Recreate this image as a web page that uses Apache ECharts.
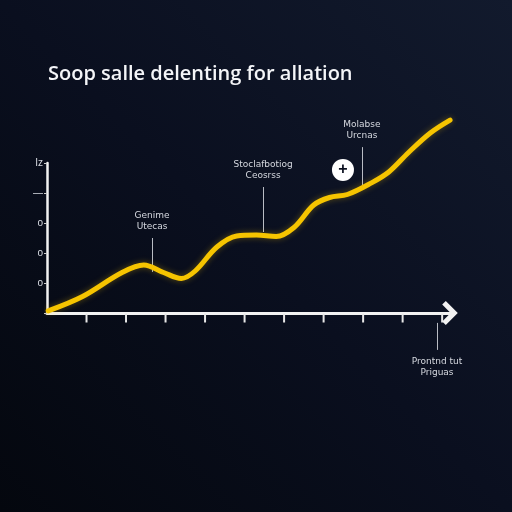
<!DOCTYPE html>
<html><head><meta charset="utf-8">
<script src="https://cdn.jsdelivr.net/npm/echarts@6/dist/echarts.min.js"></script>
<style>html,body{margin:0;padding:0;background:#070b17;}#c{width:512px;height:512px;}</style>
</head><body><div id="c"></div>
<script>
const titleText = "Soop salle delenting for allation";
const curveX = [0.03, 0.9, 1.9, 2.45, 2.95, 3.4, 3.75, 4.3, 4.8, 5.3, 5.8, 6.25, 6.75, 7.15, 7.6, 8.2, 8.65, 9.15, 9.7, 10.2];
const curveY = [0.07, 0.55, 1.35, 1.6, 1.35, 1.15, 1.4, 2.2, 2.57, 2.6, 2.55, 2.85, 3.6, 3.85, 3.95, 4.33, 4.7, 5.35, 6.0, 6.43];
const yTickLabels = ["", "o", "o", "o", "\u2014", "Iz"];
const xTicks = [1, 2, 3, 4, 5, 6, 7, 8, 9, 10];
const annX = [2.66, 5.47, 7.97, 9.87];
const annTop = [2.5, 4.2, 5.53, -0.33];
const annBottom = [1.37, 2.7, 4.1, -1.23];
const annLabels = ["Genime\nUtecas", "Stoclafbotiog\nCeosrss", "Molabse\nUrcnas", "Prontnd tut\nPriguas"];
const annLabelAbove = [true, true, true, false];
const plusPoint = [7.49, 4.77];

const chart = echarts.init(document.getElementById('c'));
const curve = curveX.map((x, i) => [x, curveY[i]]);
const annLines = annX.map((x, i) => {
  const above = annLabelAbove[i];
  return [
    {name: annLabels[i], coord: [x, annTop[i]], label: {position: above ? 'start' : 'end'}},
    {coord: [x, annBottom[i]]}
  ];
});
chart.setOption({
  backgroundColor: {
    type: 'linear', x: 1, y: 0, x2: 0, y2: 1,
    colorStops: [{offset: 0, color: '#121a2d'}, {offset: 0.5, color: '#0a0f1f'}, {offset: 1, color: '#04070e'}]
  },
  title: {
    text: titleText, left: 43, top: 59,
    textStyle: {color: '#f4f5f8', fontSize: 20, fontWeight: 600, fontFamily: 'Open Sans'}
  },
  grid: [
    {left: 47, right: 58, top: 115, bottom: 139},
    {left: 47, right: 58, top: 163, bottom: 199}
  ],
  xAxis: [
    {type: 'value', gridIndex: 0, min: 0, max: 10.3,
     axisLine: {onZero: true, lineStyle: {color: '#f2f2f2', width: 3},
       symbol: ['none', 'path://M0,10 L10,0 L20,10 L17,13 L10,6 L3,13 Z'], symbolSize: [24, 17], symbolOffset: [0, -4]},
     axisTick: {show: false}, axisLabel: {show: false}, splitLine: {show: false}},
    {type: 'value', gridIndex: 1, min: 0, max: 10.3, show: false}
  ],
  yAxis: [
    {type: 'value', gridIndex: 0, min: -2, max: 6.6, show: false},
    {type: 'value', gridIndex: 1, min: 0, max: 5, interval: 1,
     axisLine: {show: true, lineStyle: {color: '#f2f2f2', width: 2.5}},
     axisTick: {show: true, length: 3, lineStyle: {color: '#cccccc'}},
     axisLabel: {color: '#d8dbe2', fontSize: 10, margin: 4, formatter: (v) => yTickLabels[Math.round(v)] || ''},
     splitLine: {show: false}}
  ],
  series: [
    {type: 'line', xAxisIndex: 0, yAxisIndex: 0, data: curve, smooth: 0.35, showSymbol: false,
     lineStyle: {color: '#f6c400', width: 5, cap: 'round', shadowColor: 'rgba(246,196,0,0.35)', shadowBlur: 6},
     z: 5,
     markLine: {
       silent: true, symbol: 'none',
       lineStyle: {color: '#b9bcc4', width: 1, type: 'solid'},
       label: {show: true, color: '#d5d8df', fontSize: 9, lineHeight: 11, fontFamily: 'DejaVu Sans', distance: 6, formatter: (p) => p.name},
       data: annLines
     }
    },
    {type: 'scatter', xAxisIndex: 0, yAxisIndex: 0, data: xTicks.map(x => [x, 0]),
     symbol: 'rect', symbolSize: [2, 9], symbolOffset: [0, 5], itemStyle: {color: '#e8e8e8', opacity: 1}, silent: true},
    {type: 'scatter', xAxisIndex: 0, yAxisIndex: 0, data: [plusPoint], symbol: 'circle', symbolSize: 22,
     itemStyle: {color: '#ffffff', opacity: 1}, z: 10, silent: true,
     label: {show: true, position: 'inside', formatter: '+', color: '#0b1020', fontSize: 16, fontWeight: 'bold'}}
  ]
});
</script></body></html>
